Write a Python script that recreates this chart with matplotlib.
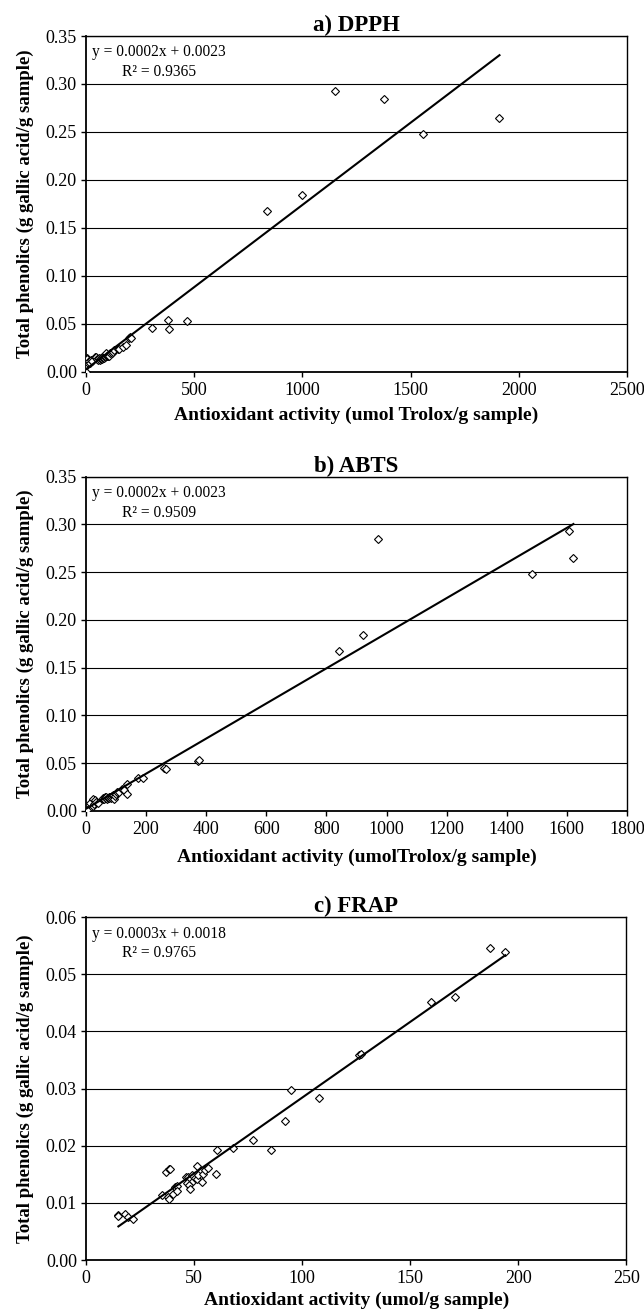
import matplotlib
matplotlib.use('Agg')
import matplotlib.pyplot as plt
import numpy as np

plt.rcParams['font.family'] = ['Liberation Serif', 'DejaVu Serif']

# ---------------- data ----------------
# a) DPPH : antioxidant activity (umol Trolox/g) vs total phenolics (g GAE/g)
dpph_x = [0, 3, 3, 6, 10, 15, 20, 25, 30, 42, 45, 50, 55, 60, 65, 68, 70, 72, 75, 78,
          80, 82, 85, 88, 90, 91, 95, 100, 105, 111, 120, 126, 129, 146, 153, 169, 183,
          200, 203, 207, 304, 381, 384, 465, 838, 999, 1149, 1375, 1556, 1911]
dpph_y = [0.0000, 0.0068, 0.0138, 0.0127, 0.0090, 0.0110, 0.0085, 0.0120, 0.0105, 0.0155,
          0.0155, 0.0130, 0.0125, 0.0145, 0.0120, 0.0135, 0.0142, 0.0148, 0.0130, 0.0146,
          0.0138, 0.0152, 0.0141, 0.0147, 0.0163, 0.0190, 0.0160, 0.0157, 0.0161, 0.0190,
          0.0193, 0.0207, 0.0224, 0.0235, 0.0235, 0.0260, 0.0276, 0.0353, 0.0359, 0.0346,
          0.0450, 0.0537, 0.0443, 0.0530, 0.1670, 0.1838, 0.2926, 0.2846, 0.2480, 0.2640]

# b) ABTS
abts_x = [0, 2, 13, 22, 24, 28, 30, 35, 40, 55, 58, 60, 62, 65, 68, 70, 72, 75, 78, 80,
          82, 85, 88, 90, 91, 94, 97, 100, 102, 110, 119, 125, 136, 136, 174, 191, 258,
          267, 374, 376, 841, 923, 971, 1485, 1606, 1622]
abts_y = [0.0000, 0.0015, 0.0086, 0.0123, 0.0052, 0.0075, 0.0110, 0.0095, 0.0080, 0.0128,
          0.0140, 0.0125, 0.0150, 0.0135, 0.0145, 0.0128, 0.0140, 0.0150, 0.0132, 0.0146,
          0.0138, 0.0155, 0.0142, 0.0160, 0.0168, 0.0123, 0.0158, 0.0180, 0.0203, 0.0195,
          0.0227, 0.0215, 0.0283, 0.0178, 0.0342, 0.0349, 0.0447, 0.0437, 0.0527, 0.0532,
          0.1670, 0.1840, 0.2848, 0.2477, 0.2928, 0.2649]

# c) FRAP : antioxidant activity (umol/g) vs total phenolics
frap_x = [15, 15, 18, 19.6, 21.6, 35, 37, 38.3, 38.7, 38.1, 38.6, 40.4, 41.2, 42, 42.3,
          46.3, 47.4, 48.2, 46.9, 47.8, 48.2, 48.9, 49.7, 50.5, 51.5, 51.5, 52, 53.5, 54.3,
          55, 56.3, 60.5, 60.2, 68.2, 77.2, 85.6, 92.1, 95, 108, 126.5, 127.2, 159.7, 170.8,
          187, 194]
frap_y = [0.0079, 0.0077, 0.0080, 0.0075, 0.0072, 0.0114, 0.0154, 0.0160, 0.0159, 0.0111,
          0.0107, 0.0116, 0.0128, 0.0129, 0.0121, 0.0145, 0.0146, 0.0142, 0.0135, 0.0131,
          0.0125, 0.0148, 0.0139, 0.0143, 0.0164, 0.0141, 0.0148, 0.0137, 0.0151, 0.0157,
          0.0161, 0.0193, 0.0150, 0.0196, 0.0210, 0.0193, 0.0244, 0.0298, 0.0284, 0.0359,
          0.0361, 0.0451, 0.0460, 0.0545, 0.0538]

# linear trendlines (slope, intercept) as drawn in the chart
fit_slopes = [0.0001715, 0.0001838, 0.000265]
fit_intercepts = [0.0023, 0.0023, 0.0019]

titles = ['a) DPPH', 'b) ABTS', 'c) FRAP']
xlabels = ['Antioxidant activity (umol Trolox/g sample)',
           'Antioxidant activity (umolTrolox/g sample)',
           'Antioxidant activity (umol/g sample)']
ylabel = 'Total phenolics (g gallic acid/g sample)'
equations = ['y = 0.0002x + 0.0023', 'y = 0.0002x + 0.0023', 'y = 0.0003x + 0.0018']
r2_texts = ['R\u00b2 = 0.9365', 'R\u00b2 = 0.9509', 'R\u00b2 = 0.9765']
xticks_list = [[0, 500, 1000, 1500, 2000, 2500],
               [0, 200, 400, 600, 800, 1000, 1200, 1400, 1600, 1800],
               [0, 50, 100, 150, 200, 250]]
yticks_list = [[0.00, 0.05, 0.10, 0.15, 0.20, 0.25, 0.30, 0.35],
               [0.00, 0.05, 0.10, 0.15, 0.20, 0.25, 0.30, 0.35],
               [0.00, 0.01, 0.02, 0.03, 0.04, 0.05, 0.06]]

xs = [dpph_x, abts_x, frap_x]
ys = [dpph_y, abts_y, frap_y]

# ---------------- layout ----------------
fig = plt.figure(figsize=(6.44, 13.11), dpi=100)
rects = [[0.1335, 0.7166, 0.840, 0.2559],
         [0.1335, 0.3814, 0.840, 0.2550],
         [0.1335, 0.0389, 0.839, 0.2616]]
xlabel_y = [-0.106, -0.114, -0.092]

for i in range(3):
    ax = fig.add_axes(rects[i])
    x = np.array(xs[i], dtype=float)
    y = np.array(ys[i], dtype=float)
    ax.plot(x, y, linestyle='none', marker='D', markersize=3.6,
            markerfacecolor='white', markeredgecolor='black', markeredgewidth=0.8, zorder=3)
    xl = np.array([x.min(), x.max()])
    ax.plot(xl, fit_slopes[i] * xl + fit_intercepts[i], color='black', lw=1.5, zorder=4)

    ax.set_xlim(xticks_list[i][0], xticks_list[i][-1])
    ax.set_ylim(yticks_list[i][0], yticks_list[i][-1])
    ax.set_xticks(xticks_list[i])
    ax.set_yticks(yticks_list[i])
    ax.set_xticklabels([str(t) for t in xticks_list[i]])
    ax.set_yticklabels(['%.2f' % t for t in yticks_list[i]])
    ax.tick_params(axis='both', direction='out', length=3.5, width=1.0,
                   labelsize=13, colors='black')
    ax.tick_params(axis='x', pad=4)
    ax.tick_params(axis='y', pad=3)
    ax.yaxis.grid(True, color='black', lw=0.8)
    ax.set_axisbelow(True)
    for s in ax.spines.values():
        s.set_color('black')
        s.set_linewidth(1.0)
    ax.spines['left'].set_linewidth(1.3)
    ax.spines['bottom'].set_linewidth(1.3)

    ax.set_title(titles[i], fontsize=16.5, fontweight='bold', pad=3)
    ax.set_xlabel(xlabels[i], fontsize=14, fontweight='bold')
    ax.xaxis.set_label_coords(0.5, xlabel_y[i])
    ax.set_ylabel(ylabel, fontsize=13.5, fontweight='bold')
    ax.yaxis.set_label_coords(-0.097, 0.5)

    ax.text(0.012, 0.975, equations[i] + '\n' + r2_texts[i], transform=ax.transAxes,
            ha='left', va='top', multialignment='center', fontsize=11.2,
            linespacing=1.3, zorder=5)

fig.savefig('out.png', dpi=100)
